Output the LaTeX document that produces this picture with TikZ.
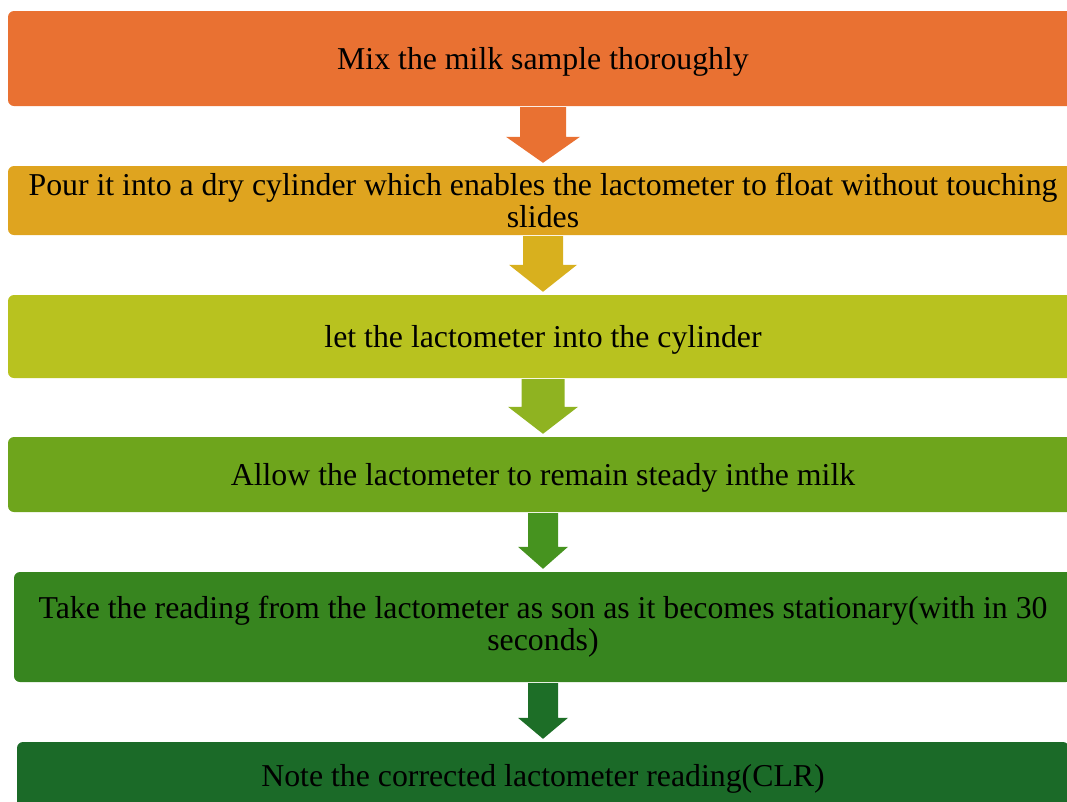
\documentclass[tikz,border=0pt]{standalone}
\usepackage{fontspec}
\setmainfont{Liberation Serif}
\usepackage{xcolor}
\usetikzlibrary{positioning, calc}
\definecolor{mixcol}{HTML}{E97132}
\definecolor{pourcol}{HTML}{DFA41F}
\definecolor{pourarr}{HTML}{D8B01E}
\definecolor{letcol}{HTML}{B8C21F}
\definecolor{letarr}{HTML}{8FB321}
\definecolor{allowcol}{HTML}{6EA51C}
\definecolor{allowarr}{HTML}{46931F}
\definecolor{takecol}{HTML}{37851F}
\definecolor{takearr}{HTML}{1D6E27}
\definecolor{notecol}{HTML}{1B6A28}
\tikzset{stepbox/.style={rectangle, rounded corners=6pt, inner sep=0pt,
    align=center, minimum width=1070pt, text=black,
    font=\fontsize{31.8}{32}\selectfont},
    oneline/.style={stepbox, text depth=0pt}}
% block arrow: from, to, colour, shaft half width, head half width, head length
\newcommand{\blockarrow}[6]{%
    \fill[#3] ($(#1.south)+(-#4,-1)$) -- ($(#2.north)+(-#4,#6+3)$)
        -- ($(#2.north)+(-#5,#6+3)$) -- ($(#2.north)+(0,3)$)
        -- ($(#2.north)+(#5,#6+3)$) -- ($(#2.north)+(#4,#6+3)$)
        -- ($(#1.south)+(#4,-1)$) -- cycle;}

\begin{document}
\begin{tikzpicture}[x=1pt, y=1pt]
    \clip (0,0) rectangle (1067,-801);

    % Steps
    \node[oneline, fill=mixcol, minimum height=95pt] (mix) at (543,-58.5)
        {Mix the milk sample thoroughly};
    \node[stepbox, fill=pourcol, minimum height=69pt] (pour) at (543,-200.5)
        {Pour it into a dry cylinder which enables the lactometer to float without touching\\ slides};
    \node[oneline, fill=letcol, minimum height=83pt] (let) at (543,-336.5)
        {let the lactometer into the cylinder};
    \node[oneline, fill=allowcol, minimum height=75pt] (allow) at (543,-474.5)
        {Allow the lactometer to remain steady inthe milk};
    \node[stepbox, fill=takecol, minimum height=110pt, minimum width=1058pt] (take) at (543,-627)
        {Take the reading from the lactometer as son as it becomes stationary(with in 30\\ seconds)};
    \node[oneline, fill=notecol, minimum height=66pt, minimum width=1052pt] (note) at (543,-775)
        {Note the corrected lactometer reading(CLR)};

    % Arrows between steps
    \blockarrow{mix}{pour}{mixcol}{23}{37}{26}
    \blockarrow{pour}{let}{pourarr}{20}{34}{27}
    \blockarrow{let}{allow}{letarr}{21.5}{35}{27}
    \blockarrow{allow}{take}{allowarr}{15}{25}{22}
    \blockarrow{take}{note}{takearr}{15}{25}{21}
\end{tikzpicture}
\end{document}
